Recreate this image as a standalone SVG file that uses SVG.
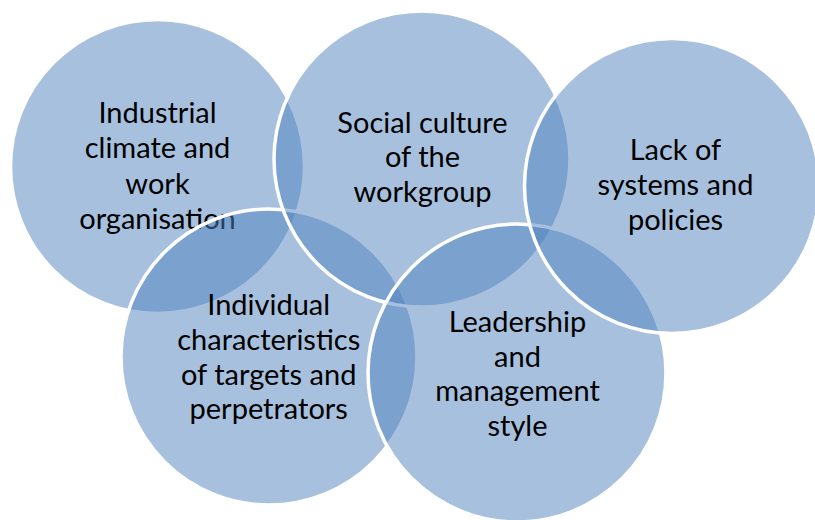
<svg xmlns="http://www.w3.org/2000/svg" width="815" height="520" viewBox="0 0 815 520">
  <style>
    .c { fill: #4f81bd; fill-opacity: 0.5; stroke: #ffffff; stroke-width: 3.5; }
    .t { font-family: Lato, "Open Sans", "Liberation Sans", sans-serif; font-size: 29px; fill: #000000; text-anchor: middle; }
  </style>
  <rect width="815" height="520" fill="#ffffff"/>
  <g id="connectors"></g>
  <g id="node-industrial">
    <circle class="c" cx="157.5" cy="166.5" r="147"/>
    <text class="t" x="157.5" y="123">Industrial</text>
    <text class="t" x="157.5" y="158">climate and</text>
    <text class="t" x="157.5" y="194">work</text>
    <text class="t" x="157.5" y="229">organisation</text>
  </g>
  <g id="node-individual">
    <circle class="c" cx="269" cy="357" r="148"/>
    <text class="t" x="268.7" y="314.5">Individual</text>
    <text class="t" x="268.7" y="350">characteristics</text>
    <text class="t" x="268.7" y="385">of targets and</text>
    <text class="t" x="268.7" y="419">perpetrators</text>
  </g>
  <g id="node-social">
    <circle class="c" cx="422" cy="159" r="148"/>
    <text class="t" x="422.5" y="132.5">Social culture</text>
    <text class="t" x="422.5" y="167">of the</text>
    <text class="t" x="422.5" y="202">workgroup</text>
  </g>
  <g id="node-leadership">
    <circle class="c" cx="517" cy="373" r="149"/>
    <text class="t" x="517.5" y="332">Leadership</text>
    <text class="t" x="517.5" y="366.5">and</text>
    <text class="t" x="517.5" y="400.5">management</text>
    <text class="t" x="517.5" y="436">style</text>
  </g>
  <g id="node-lack">
    <circle class="c" cx="672" cy="186" r="147.5"/>
    <text class="t" x="675.5" y="159.5">Lack of</text>
    <text class="t" x="675.5" y="194.5">systems and</text>
    <text class="t" x="675.5" y="230">policies</text>
  </g>
</svg>
